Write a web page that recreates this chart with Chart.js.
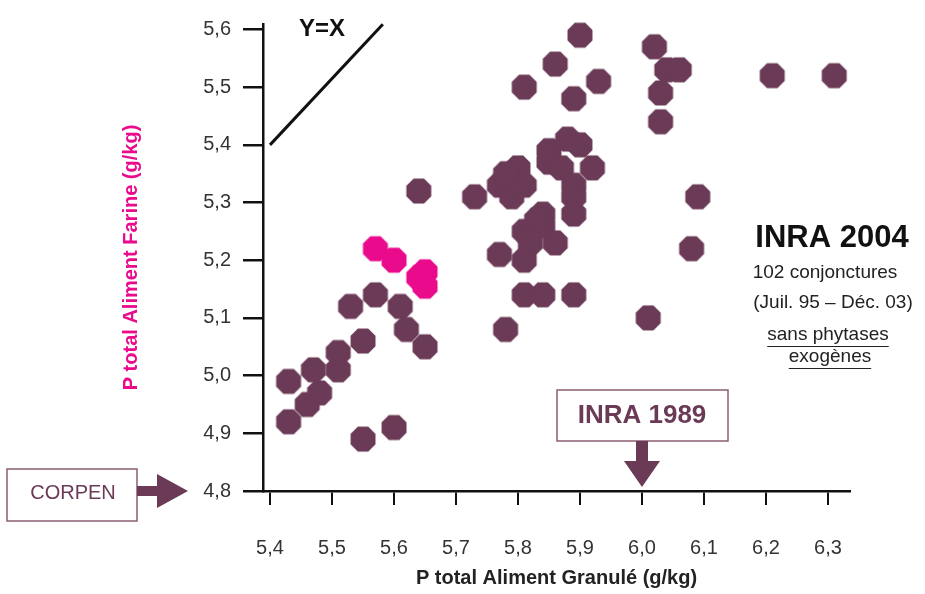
<!DOCTYPE html>
<html>
<head>
    <title>P total Aliment Farine vs Granulé</title>
    <script src="https://cdn.jsdelivr.net/npm/chart.js@4.4.0/dist/chart.umd.min.js"></script>
    <style>
        body { margin: 0; background: #fff; }
        #wrap { width: 925px; height: 594px; }
    </style>
</head>
<body>
    <div id="wrap">
        <canvas id="myChart" width="925" height="594"></canvas>
    </div>

    <script>
        // Data (g/kg)
        const granuleBrun = [5.43, 5.43, 5.46, 5.48, 5.47, 5.51, 5.51, 5.55, 5.53, 5.57, 5.61, 5.62, 5.65, 5.55, 5.60, 5.64, 5.73,
            5.77, 5.80, 5.79, 5.81, 5.78, 5.85, 5.85, 5.88, 5.90, 5.87, 5.92, 5.89, 5.89, 5.89, 5.84, 5.81, 5.84, 5.86, 5.82,
            5.77, 5.81, 5.81, 5.84, 5.89, 5.78, 5.83,
            5.90, 5.86, 5.81, 5.93, 5.89,
            6.02, 6.04, 6.06, 6.03, 6.03, 6.21, 6.31, 6.09, 6.08, 6.01];
        const farineBrun = [4.99, 4.92, 4.95, 4.97, 5.01, 5.01, 5.04, 5.06, 5.12, 5.14, 5.12, 5.08, 5.05, 4.89, 4.91, 5.32, 5.31,
            5.33, 5.36, 5.31, 5.33, 5.35, 5.37, 5.39, 5.41, 5.40, 5.36, 5.36, 5.33, 5.31, 5.28, 5.28, 5.25, 5.26, 5.23, 5.23,
            5.21, 5.20, 5.14, 5.14, 5.14, 5.08, 5.27,
            5.59, 5.54, 5.50, 5.51, 5.48,
            5.57, 5.53, 5.53, 5.49, 5.44, 5.52, 5.52, 5.31, 5.22, 5.10];
        const granuleRose = [5.57, 5.60, 5.65, 5.64, 5.65];
        const farineRose = [5.22, 5.20, 5.18, 5.17, 5.155];
        // Y=X reference segment
        const droiteX = [5.40, 5.582];
        const droiteY = [5.40, 5.609];
        const xTicks = [5.4, 5.5, 5.6, 5.7, 5.8, 5.9, 6.0, 6.1, 6.2, 6.3];
        const yTicks = [4.8, 4.9, 5.0, 5.1, 5.2, 5.3, 5.4, 5.5, 5.6];

        const BRUN = '#6b3a56';
        const ROSE = '#ea0a8c';
        const FONT = '"Liberation Sans", Arial, sans-serif';

        function pairs(xs, ys) {
            return xs.map((x, i) => ({ x: x, y: ys[i] }));
        }

        // octagon marker
        function octagone(color) {
            const c = document.createElement('canvas');
            c.width = 28; c.height = 28;
            const g = c.getContext('2d');
            g.fillStyle = color;
            g.beginPath();
            for (let k = 0; k < 8; k++) {
                const a = Math.PI / 8 + k * Math.PI / 4;
                const px = 14 + 13.5 * Math.cos(a), py = 14 + 13.5 * Math.sin(a);
                if (k === 0) g.moveTo(px, py); else g.lineTo(px, py);
            }
            g.closePath();
            g.fill();
            return c;
        }

        const virgule = v => v.toFixed(1).replace('.', ',');

        // annotations drawn on top
        const annotations = {
            id: 'annotations',
            afterDraw(chart) {
                const ctx = chart.ctx;
                ctx.save();
                ctx.textAlign = 'center';
                ctx.textBaseline = 'middle';

                ctx.fillStyle = '#111';
                ctx.font = 'bold 24px ' + FONT;
                ctx.fillText('Y=X', 322, 29);

                ctx.font = 'bold 31px ' + FONT;
                ctx.fillText('INRA 2004', 832, 238);
                ctx.fillStyle = '#222';
                ctx.font = '19px ' + FONT;
                ctx.fillText('102 conjonctures', 825, 273);
                ctx.fillText('(Juil. 95 \u2013 Déc. 03)', 833, 303);
                ctx.fillText('sans phytases', 828, 335);
                ctx.fillText('exogènes', 830, 357);
                ctx.strokeStyle = '#222';
                ctx.lineWidth = 1;
                let w = ctx.measureText('sans phytases').width;
                ctx.beginPath();
                ctx.moveTo(828 - w / 2, 346.5); ctx.lineTo(828 + w / 2, 346.5);
                w = ctx.measureText('exogènes').width;
                ctx.moveTo(830 - w / 2, 368.5); ctx.lineTo(830 + w / 2, 368.5);
                ctx.stroke();

                // INRA 1989 box + arrow
                ctx.strokeStyle = '#8a5d72';
                ctx.lineWidth = 1.5;
                ctx.strokeRect(557, 390, 171, 51);
                ctx.fillStyle = BRUN;
                ctx.font = 'bold 26px ' + FONT;
                ctx.fillText('INRA 1989', 642, 416);
                const ax = chart.scales.x.getPixelForValue(6.0);
                ctx.beginPath();
                ctx.moveTo(ax - 6, 441); ctx.lineTo(ax + 6, 441);
                ctx.lineTo(ax + 6, 461); ctx.lineTo(ax + 18, 461);
                ctx.lineTo(ax, 487); ctx.lineTo(ax - 18, 461);
                ctx.lineTo(ax - 6, 461); ctx.closePath();
                ctx.fill();

                // CORPEN box + arrow
                ctx.strokeRect(7, 469, 130, 52);
                ctx.font = '20px ' + FONT;
                ctx.fillText('CORPEN', 73, 493);
                const ay = chart.scales.y.getPixelForValue(4.8);
                ctx.beginPath();
                ctx.moveTo(137, ay - 5); ctx.lineTo(157, ay - 5);
                ctx.lineTo(157, ay - 17); ctx.lineTo(188, ay);
                ctx.lineTo(157, ay + 17); ctx.lineTo(157, ay + 5);
                ctx.lineTo(137, ay + 5); ctx.closePath();
                ctx.fill();
                ctx.restore();
            }
        };

        const data = {
            datasets: [
                {
                    label: 'Y=X',
                    data: pairs(droiteX, droiteY),
                    showLine: true,
                    borderColor: '#111',
                    borderWidth: 3,
                    pointRadius: 0,
                    clip: false
                },
                {
                    label: 'INRA 2004',
                    data: pairs(granuleBrun, farineBrun),
                    pointStyle: octagone(BRUN),
                    clip: false
                },
                {
                    label: 'INRA 2004 (rose)',
                    data: pairs(granuleRose, farineRose),
                    pointStyle: octagone(ROSE),
                    clip: false
                }
            ]
        };

        const config = {
            type: 'scatter',
            data: data,
            options: {
                responsive: false,
                animation: false,
                layout: { padding: { left: 119, top: 15, right: 75, bottom: 4 } },
                plugins: {
                    legend: { display: false },
                    tooltip: { enabled: false }
                },
                scales: {
                    x: {
                        type: 'linear',
                        min: 5.3887,
                        max: 6.3355,
                        afterBuildTicks: s => { s.ticks = xTicks.map(v => ({ value: v })); },
                        afterFit: s => { s.height = 99; },
                        grid: { drawOnChartArea: false, drawTicks: true, tickLength: 14, color: '#111', lineWidth: 2 },
                        border: { display: true, color: '#111', width: 2.5 },
                        ticks: {
                            padding: 31,
                            color: '#333',
                            font: { family: FONT, size: 20 },
                            callback: v => virgule(v)
                        },
                        title: {
                            display: true,
                            text: 'P total Aliment Granulé (g/kg)',
                            color: '#222',
                            font: { family: FONT, size: 20, weight: 'bold' },
                            padding: { top: 0, bottom: 0 }
                        }
                    },
                    y: {
                        type: 'linear',
                        min: 4.8,
                        max: 5.6095,
                        afterBuildTicks: s => { s.ticks = yTicks.map(v => ({ value: v })); },
                        afterFit: s => { s.width = 263 - 119; },
                        grid: { drawOnChartArea: false, drawTicks: true, tickLength: 20, color: '#111', lineWidth: 2.5 },
                        border: { display: true, color: '#111', width: 2.5 },
                        ticks: {
                            padding: 12,
                            color: '#333',
                            font: { family: FONT, size: 20 },
                            callback: v => virgule(v)
                        },
                        title: {
                            display: true,
                            text: 'P total Aliment Farine (g/kg)',
                            color: ROSE,
                            font: { family: FONT, size: 20, weight: 'bold' },
                            padding: { top: 0, bottom: 0 }
                        }
                    }
                }
            },
            plugins: [annotations]
        };

        const ctx = document.getElementById('myChart');
        new Chart(ctx, config);
    </script>
</body>
</html>
